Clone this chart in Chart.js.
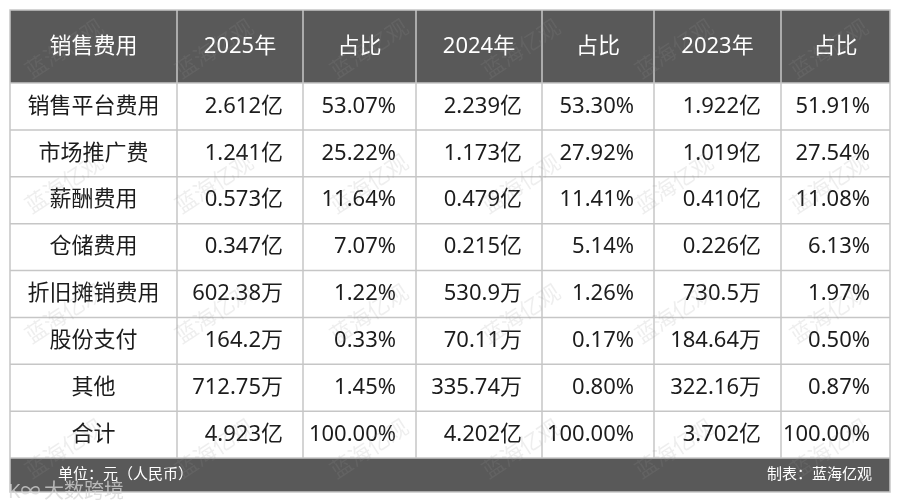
<!DOCTYPE html>
<html>
<head>
<meta charset="utf-8">
<script src="https://cdn.jsdelivr.net/npm/chart.js@4"></script>
<style>
  html, body { margin: 0; padding: 0; background: #fff; }
  canvas { display: block; }
</style>
</head>
<body>
<canvas id="chart1" width="900" height="503"></canvas>
<script>
// table content
var headers = ["销售费用", "2025年", "占比", "2024年", "占比", "2023年", "占比"];
var items = ["销售平台费用", "市场推广费", "薪酬费用", "仓储费用", "折旧摊销费用", "股份支付", "其他", "合计"];
var amount2025 = ["2.612亿", "1.241亿", "0.573亿", "0.347亿", "602.38万", "164.2万", "712.75万", "4.923亿"];
var share2025 = ["53.07%", "25.22%", "11.64%", "7.07%", "1.22%", "0.33%", "1.45%", "100.00%"];
var amount2024 = ["2.239亿", "1.173亿", "0.479亿", "0.215亿", "530.9万", "70.11万", "335.74万", "4.202亿"];
var share2024 = ["53.30%", "27.92%", "11.41%", "5.14%", "1.26%", "0.17%", "0.80%", "100.00%"];
var amount2023 = ["1.922亿", "1.019亿", "0.410亿", "0.226亿", "730.5万", "184.64万", "322.16万", "3.702亿"];
var share2023 = ["51.91%", "27.54%", "11.08%", "6.13%", "1.97%", "0.50%", "0.87%", "100.00%"];
var unitNote = "单位：元（人民币）";
var sourceNote = "制表：蓝海亿观";
var watermark = "蓝海亿观";

// layout (scale units)
var colEdges = [0, 167, 293, 406, 532, 644, 771, 880];
var headerH = 73;
var rowH = 46.875;
var footerH = 34;
var tableW = 880;
var tableH = headerH + rowH * items.length + footerH;
var wmX = [55, 205, 360, 512, 665, 820];
var wmY = [40, 175, 305, 440];

var FONT = "'Noto Sans', 'Noto Sans CJK SC', sans-serif";

var tablePlugin = {
  id: "table",
  afterDraw: function (chart) {
    var ctx = chart.ctx;
    var x = chart.scales.x, y = chart.scales.y;
    var px = function (v) { return x.getPixelForValue(v); };
    var py = function (v) { return y.getPixelForValue(v); };
    var columns = [items, amount2025, share2025, amount2024, share2024, amount2023, share2023];
    var bodyTop = headerH, bodyBottom = headerH + rowH * items.length;

    ctx.save();
    ctx.fillStyle = "#ffffff";
    ctx.fillRect(0, 0, chart.width, chart.height);

    // header + footer bands
    ctx.fillStyle = "#595959";
    ctx.fillRect(px(0), py(0), px(tableW) - px(0), py(headerH) - py(0));
    ctx.fillRect(px(0), py(bodyBottom), px(tableW) - px(0), py(tableH) - py(bodyBottom));

    // grid
    ctx.strokeStyle = "#c6c6c6";
    ctx.lineWidth = 1.5;
    ctx.beginPath();
    for (var r = 0; r <= items.length; r++) {
      var yy = py(bodyTop + r * rowH);
      ctx.moveTo(px(0), yy);
      ctx.lineTo(px(tableW), yy);
    }
    for (var c = 1; c < colEdges.length - 1; c++) {
      ctx.moveTo(px(colEdges[c]), py(0));
      ctx.lineTo(px(colEdges[c]), py(bodyBottom));
    }
    ctx.stroke();
    ctx.strokeRect(px(0), py(0), px(tableW) - px(0), py(tableH) - py(0));

    // header text
    ctx.textBaseline = "middle";
    ctx.font = "22px " + FONT;
    ctx.fillStyle = "#ffffff";
    ctx.textAlign = "center";
    headers.forEach(function (h, i) {
      ctx.fillText(h, px((colEdges[i] + colEdges[i + 1]) / 2), py(headerH / 2));
    });

    // body text
    ctx.fillStyle = "#1c1c1c";
    columns.forEach(function (col, i) {
      col.forEach(function (txt, r) {
        var cy = py(bodyTop + (r + 0.5) * rowH);
        if (i === 0) {
          ctx.textAlign = "center";
          ctx.fillText(txt, px((colEdges[0] + colEdges[1]) / 2), cy);
        } else {
          ctx.textAlign = "right";
          ctx.fillText(txt, px(colEdges[i + 1] - 20), cy);
        }
      });
    });

    // footer text
    ctx.font = "15px " + FONT;
    ctx.fillStyle = "#ffffff";
    ctx.textAlign = "left";
    ctx.fillText(unitNote, px(48), py(bodyBottom + footerH / 2));
    ctx.textAlign = "right";
    ctx.fillText(sourceNote, px(tableW - 18), py(bodyBottom + footerH / 2));

    // watermarks
    ctx.font = "22px " + FONT;
    ctx.fillStyle = "rgba(150,150,150,0.16)";
    ctx.textAlign = "center";
    wmY.forEach(function (wy) {
      wmX.forEach(function (wx) {
        ctx.save();
        ctx.translate(px(wx), py(wy));
        ctx.rotate(-33 * Math.PI / 180);
        ctx.fillText(watermark, 0, 0);
        ctx.restore();
      });
    });

    ctx.font = "20px " + FONT;
    ctx.textAlign = "left";
    ctx.fillStyle = "rgba(215,215,215,0.75)";
    ctx.fillText("K∞", 8, 492);
    ctx.fillText("大数跨境", 44, 492);
    ctx.restore();
  }
};

function drawTable() {
  var ctx = document.getElementById("chart1").getContext("2d");
  new Chart(ctx, {
    type: "scatter",
    data: { datasets: [] },
    options: {
      responsive: false,
      animation: false,
      events: [],
      layout: { padding: { left: 10, right: 10, top: 10, bottom: 503 - 10 - tableH } },
      plugins: { legend: { display: false }, tooltip: { enabled: false } },
      scales: {
        x: { type: "linear", min: 0, max: tableW, display: false },
        y: { type: "linear", min: 0, max: tableH, reverse: true, display: false }
      }
    },
    plugins: [tablePlugin]
  });
}
window.onload = drawTable;
</script>
</body>
</html>
